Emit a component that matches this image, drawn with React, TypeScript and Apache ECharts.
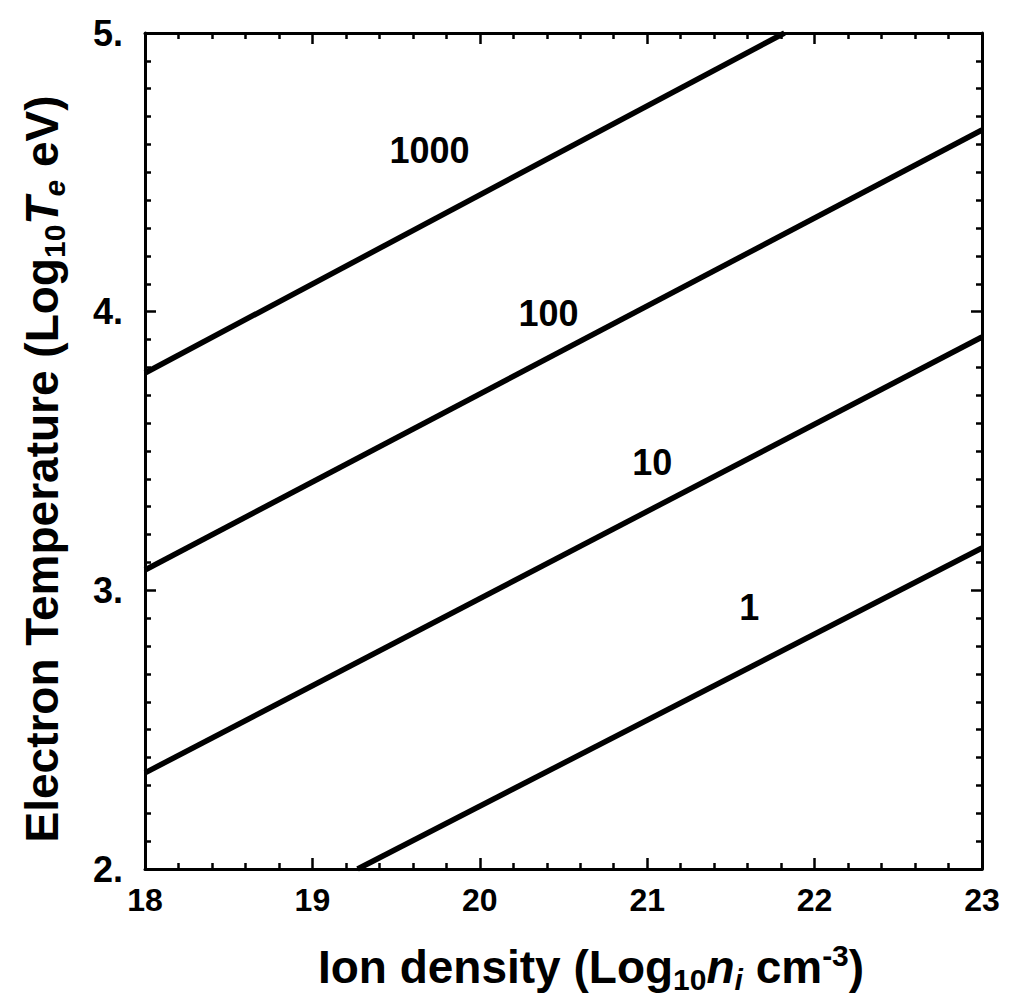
import React, { useEffect, useRef } from "react";
import * as echarts from "echarts";

const xTicks = [18, 19, 20, 21, 22, 23];
const yTicks = [2, 3, 4, 5];
const curveNames = ["1000", "100", "10", "1"];
const curve1000 = [[18, 3.78], [21.82, 5.0]];
const curve100 = [[18, 3.073], [23, 4.652]];
const curve10 = [[18, 2.345], [23, 3.909]];
const curve1 = [[19.27, 2.0], [23, 3.152]];
const curveLabelPos = [[19.7, 4.578], [20.41, 3.995], [21.03, 3.46], [21.61, 2.937]];

const FONT = "'Liberation Sans', Arial, Helvetica, sans-serif";

export default function App() {
  const ref = useRef<HTMLDivElement>(null);
  useEffect(() => {
    const chart = echarts.init(ref.current!, null, { renderer: "svg" });
    const axisLine = { show: true, onZero: false, lineStyle: { color: "#000", width: 3 } };
    const tick = { show: true, inside: true, length: 11, lineStyle: { color: "#000", width: 2.5 } };
    const minorX = { show: true, splitNumber: 5, length: 6, lineStyle: { color: "#000", width: 2.5 } };
    const minorY = { show: true, splitNumber: 10, length: 6, lineStyle: { color: "#000", width: 2.5 } };
    const xBase = { type: "value", min: xTicks[0], max: xTicks[xTicks.length - 1], interval: 1, splitLine: { show: false }, axisLine, axisTick: tick, minorTick: minorX };
    const yBase = { type: "value", min: yTicks[0], max: yTicks[yTicks.length - 1], interval: 1, splitLine: { show: false }, axisLine, axisTick: tick, minorTick: minorY };
    const curves = [curve1000, curve100, curve10, curve1];
    const main = { fontFamily: FONT, fontWeight: "bold", fontSize: 46, lineHeight: 54, verticalAlign: "middle", fill: "#000" };
    const sub = { fontFamily: FONT, fontWeight: "bold", fontSize: 30, verticalAlign: "bottom", fill: "#000" };
    chart.setOption({
      animation: false,
      grid: { left: 145, top: 33, right: 29, bottom: 128 },
      xAxis: [
        { ...xBase, position: "bottom", axisLabel: { show: true, margin: 15, fontFamily: FONT, fontWeight: "bold", fontSize: 32, color: "#000", formatter: (v: number) => String(v) } },
        { ...xBase, position: "top", axisLabel: { show: false } },
      ],
      yAxis: [
        { ...yBase, position: "left", axisLabel: { show: true, margin: 22, padding: [0, 0, 12, 0], fontFamily: FONT, fontWeight: "bold", fontSize: 36, color: "#000", formatter: (v: number) => v + "." } },
        { ...yBase, position: "right", axisLabel: { show: false } },
      ],
      series: [
        ...curves.map((d, i) => ({
          type: "line",
          name: curveNames[i],
          data: d,
          showSymbol: false,
          symbol: "none",
          lineStyle: { color: "#000", width: 5.5 },
        })),
        {
          type: "scatter",
          symbolSize: 0,
          itemStyle: { opacity: 1, color: "#000" },
          data: curveLabelPos.map((p, i) => ({ value: p, name: curveNames[i] })),
          label: { show: true, position: "inside", formatter: (p: any) => p.name, fontFamily: FONT, fontWeight: "bold", fontSize: 36, color: "#000", opacity: 1 },
        },
      ],
      graphic: [
        {
          type: "text",
          x: 591,
          y: 967,
          style: {
            text: "{a|Ion density (Log}{s|10}{i|n}{si|i}{a| cm}{sup|-3}{a|)}",
            align: "center",
            verticalAlign: "middle",
            rich: {
              a: main,
              i: { ...main, fontStyle: "italic" },
              s: sub,
              si: { ...sub, fontStyle: "italic" },
              sup: { ...sub, verticalAlign: "top" },
            },
          },
        },
        {
          type: "text",
          x: 42,
          y: 469,
          rotation: Math.PI / 2,
          style: {
            text: "{a|Electron Temperature (Log}{s|10}{i|T}{si|e}{a| eV)}",
            align: "center",
            verticalAlign: "middle",
            rich: {
              a: main,
              i: { ...main, fontStyle: "italic" },
              s: sub,
              si: { ...sub, fontStyle: "italic" },
            },
          },
        },
      ],
    });
    return () => chart.dispose();
  }, []);
  return <div ref={ref} style={{ position: "fixed", left: 0, top: 0, width: 1011, height: 997, background: "#fff" }} />;
}
